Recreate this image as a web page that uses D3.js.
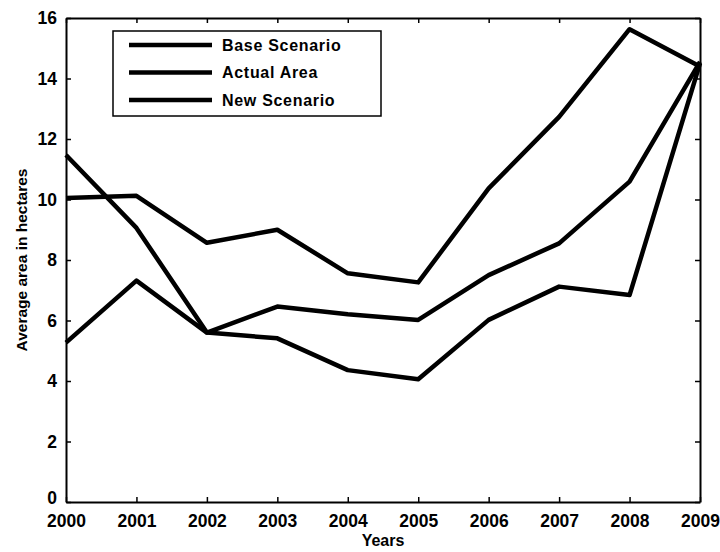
<!DOCTYPE html>
<html>
<head>
<meta charset="utf-8">
<script src="https://cdn.jsdelivr.net/npm/d3@7"></script>
<style>
  body { margin: 0; background: #fff; }
  svg text { font-family: "Liberation Sans", Arial, sans-serif; fill: #000; }
</style>
</head>
<body>
<div id="chart"></div>
<script>
// Data
const years = [2000, 2001, 2002, 2003, 2004, 2005, 2006, 2007, 2008, 2009];
const baseScenario = [10.05, 10.12, 8.57, 9.0, 7.56, 7.26, 10.37, 12.73, 15.63, 14.4];
const actualArea = [11.47, 9.06, 5.6, 5.41, 4.36, 4.06, 6.02, 7.12, 6.84, 14.5];
const newScenario = [5.27, 7.32, 5.6, 6.46, 6.21, 6.02, 7.5, 8.55, 10.59, 14.55];
const seriesNames = ["Base Scenario", "Actual Area", "New Scenario"];
const yTicks = [0, 2, 4, 6, 8, 10, 12, 14, 16];

const W = 720, H = 552;
const margin = { top: 18, right: 20, bottom: 50, left: 66 };
const width = W - margin.left - margin.right;
const height = H - margin.top - margin.bottom;

const svg = d3.select("#chart").append("svg")
    .attr("width", W)
    .attr("height", H);

const g = svg.append("g")
    .attr("transform", `translate(${margin.left},${margin.top})`);

// Scales
const x = d3.scaleLinear().domain([2000, 2009]).range([0, width]);
const y = d3.scaleLinear().domain([0, 16]).range([height, 0]);

// Lines
const series = [baseScenario, actualArea, newScenario];
const line = d3.line()
    .x((d, i) => x(years[i]))
    .y(d => y(d));

series.forEach(s => {
    g.append("path")
        .datum(s)
        .attr("d", line)
        .attr("fill", "none")
        .attr("stroke", "#000")
        .attr("stroke-width", 4.5)
        .attr("stroke-linejoin", "round");
});

// Axes with inward ticks (box style)
const tickLen = 5;
const xBottom = g.append("g")
    .attr("transform", `translate(0,${height})`)
    .call(d3.axisBottom(x).tickValues(years).tickFormat(d3.format("d"))
        .tickSizeInner(-tickLen).tickSizeOuter(0).tickPadding(14));
const xTop = g.append("g")
    .call(d3.axisTop(x).tickValues(years).tickFormat("")
        .tickSizeInner(-tickLen).tickSizeOuter(0));
const yLeft = g.append("g")
    .call(d3.axisLeft(y).tickValues(yTicks)
        .tickSizeInner(-tickLen).tickSizeOuter(0).tickPadding(9));
const yRight = g.append("g")
    .attr("transform", `translate(${width},0)`)
    .call(d3.axisRight(y).tickValues(yTicks).tickFormat("")
        .tickSizeInner(-tickLen).tickSizeOuter(0));

[xBottom, xTop, yLeft, yRight].forEach(a => {
    a.select(".domain").attr("stroke", "#000").attr("stroke-width", 2);
    a.selectAll(".tick line").attr("stroke", "#000").attr("stroke-width", 1.5);
    a.selectAll("text")
        .style("font-size", "17.5px")
        .style("font-weight", "bold");
});
// x labels a little lower, the zero label a little higher so they don't collide
xBottom.selectAll(".tick text").attr("dy", "0.62em");
yLeft.selectAll(".tick text").filter(d => d === 0).attr("dy", "0.1em");

// Axis labels
g.append("text")
    .attr("x", width / 2)
    .attr("y", height + 44)
    .attr("text-anchor", "middle")
    .style("font-size", "16px")
    .style("font-weight", "bold")
    .text("Years");

g.append("text")
    .attr("transform", `translate(${22 - margin.left},${height / 2}) rotate(-90)`)
    .attr("text-anchor", "middle")
    .attr("dy", "0.35em")
    .style("font-size", "15.5px")
    .style("font-weight", "bold")
    .text("Average area in hectares");

// Legend
const legend = g.append("g")
    .attr("transform", `translate(${113 - margin.left},${31 - margin.top})`);

legend.append("rect")
    .attr("width", 268)
    .attr("height", 85)
    .attr("fill", "#fff")
    .attr("stroke", "#000")
    .attr("stroke-width", 1.5);

seriesNames.forEach((name, i) => {
    const row = legend.append("g")
        .attr("transform", `translate(0,${14 + i * 27.5})`);
    row.append("line")
        .attr("x1", 16).attr("x2", 99)
        .attr("y1", 0).attr("y2", 0)
        .attr("stroke", "#000")
        .attr("stroke-width", 4.5);
    row.append("text")
        .attr("x", 109)
        .attr("y", 0)
        .attr("dy", "0.35em")
        .style("font-size", "16px")
        .style("font-weight", "bold")
        .style("letter-spacing", "0.7px")
        .text(name);
});
</script>
</body>
</html>
